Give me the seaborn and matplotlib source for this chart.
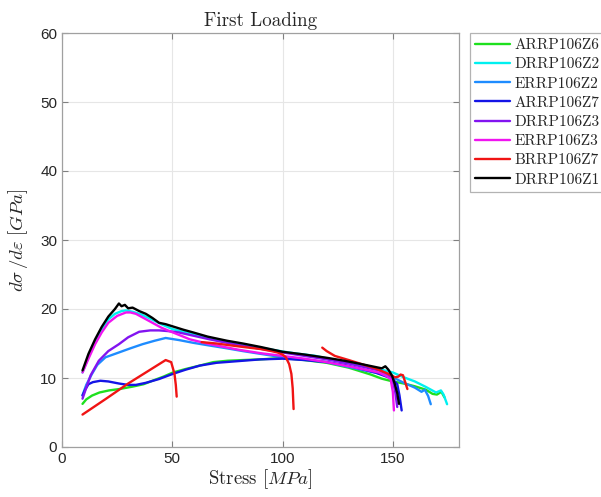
import numpy as np
import pandas as pd
import matplotlib
matplotlib.use("Agg")
import matplotlib.pyplot as plt
import seaborn as sns

# Tangent modulus vs stress during first loading, one curve per specimen
specimens = ["ARRP106Z6", "DRRP106Z2", "ERRP106Z2", "ARRP106Z7",
             "DRRP106Z3", "ERRP106Z3", "BRRP106Z7", "DRRP106Z1"]

green_x = [9.3, 11, 13.6, 17, 21.3, 26, 32, 37, 41, 46, 50.3, 56, 62.5, 68.6, 75, 82, 90, 100,
           110, 120, 130, 140, 145, 150, 155, 160, 165, 168, 170, 172, 173.4]
green_y = [6.25, 6.9, 7.45, 7.9, 8.2, 8.4, 8.75, 9.1, 9.6, 10.2, 10.8, 11.3, 11.8, 12.3, 12.5, 12.6,
           12.7, 12.9, 12.6, 12.2, 11.5, 10.5, 9.9, 9.5, 9.2, 8.8, 8.3, 7.7, 7.6, 8.0, 7.2]

cyan_x = [9.3, 12, 15, 18, 21, 24, 27, 29, 32, 36, 40, 45, 50, 60, 70, 80, 90, 97, 105, 115, 125,
          135, 145, 150, 155, 160, 165, 169.6, 171.8, 173, 174.6]
cyan_y = [10.8, 13, 15.2, 17, 18.5, 19.3, 19.7, 19.8, 19.6, 19.2, 18.6, 17.8, 17.1, 16.3, 15.5, 15,
          14.4, 14, 13.6, 13.2, 12.5, 12, 11.2, 10.8, 10.1, 9.5, 8.7, 7.9, 8.2, 7.6, 6.2]

dodger_x = [9.3, 11, 13.6, 16, 19.7, 25.8, 31, 36.5, 42, 47, 53, 59.5, 67, 74.8, 82, 90, 100, 110,
            120, 130, 140, 145, 150, 155, 160, 163, 164.5, 166, 167.2]
dodger_y = [7.5, 9.0, 10.6, 11.9, 13, 13.7, 14.3, 14.9, 15.4, 15.8, 15.5, 15.1, 14.7, 14.3, 13.9,
            13.5, 13, 12.7, 12.3, 11.6, 10.9, 10.6, 10.1, 9.3, 8.6, 8.0, 8.3, 7.4, 6.2]

blue_x = [9.3, 10.5, 12, 14, 17.4, 21, 25.8, 30, 33.5, 38, 44, 50.3, 56, 62.5, 70, 82, 90, 100,
          110, 120, 128, 136, 142, 148, 150, 152, 153, 154]
blue_y = [7.45, 8.3, 9.1, 9.4, 9.6, 9.5, 9.2, 9.0, 9.0, 9.3, 9.85, 10.6, 11.2, 11.8, 12.2, 12.5,
          12.7, 12.8, 12.6, 12.3, 11.9, 11.3, 10.8, 10.1, 9.8, 9.1, 7.5, 5.3]

purple_x = [9.3, 11, 13, 16.7, 21, 25.8, 30, 35, 40, 44, 48, 53, 60, 67, 74.8, 85, 100, 110, 120,
            130, 143.6, 147, 149, 150, 151, 152]
purple_y = [7.0, 8.6, 10.4, 12.5, 13.9, 14.9, 15.9, 16.7, 16.9, 16.9, 16.8, 16.6, 16.1, 15.6, 15.1,
            14.5, 13.7, 13.2, 12.7, 12.1, 11.1, 10.7, 10.3, 9.5, 8.2, 5.8]

magenta_x = [9.3, 12, 15, 18, 21, 25, 29, 31, 33.5, 37, 41, 45, 50.3, 58, 67, 80, 90, 100, 110,
             120, 130, 143.6, 147, 149, 150, 150.5]
magenta_y = [10.8, 12.8, 14.9, 16.6, 18, 19, 19.5, 19.5, 19.3, 18.7, 18, 17.3, 16.6, 15.6, 14.9,
             14.1, 13.6, 13.2, 12.8, 12.3, 11.7, 10.8, 10.3, 9.85, 8.0, 5.3]

# BRRP106Z7 was recorded in three separate stress windows
red_x1 = [9.3, 20, 30, 40, 44, 47, 49.5, 51, 51.6, 52]
red_y1 = [4.7, 7.0, 9.2, 11.2, 12.0, 12.6, 12.3, 10.6, 9.0, 7.3]
red_x2 = [63.3, 70, 74.8, 82, 90, 95, 97.7, 100, 101.5, 103, 104, 104.6, 105]
red_y2 = [15.2, 15.0, 14.8, 14.5, 14.2, 13.9, 13.7, 13.4, 13.0, 12.0, 10.6, 8.5, 5.5]
red_x3 = [118, 120, 123.7, 130, 136, 142, 148, 151, 152.5, 153.5, 154.6, 155.5, 156.6]
red_y3 = [14.4, 13.9, 13.2, 12.6, 12.0, 11.4, 10.6, 10.1, 10.2, 10.5, 10.4, 9.5, 8.4]

black_x = [9.3, 12, 15, 18, 21, 24, 25.8, 27, 28.5, 30, 32, 35, 38, 41, 44, 47, 50, 55, 59.5, 66,
           74.8, 82, 90, 100, 110, 120.6, 128, 136, 142, 145, 146.6, 148, 149.7, 151, 152, 152.8]
black_y = [11.1, 13.5, 15.6, 17.4, 18.9, 20.0, 20.8, 20.4, 20.6, 20.1, 20.2, 19.7, 19.3, 18.7, 18.0,
           17.8, 17.5, 17.0, 16.6, 16.0, 15.4, 15.0, 14.5, 13.8, 13.4, 12.9, 12.5, 12.0, 11.6, 11.4,
           11.7, 11.2, 10.3, 9.0, 7.8, 6.25]

colors = ["#1ee01e", "#00f0f0", "#1e8cff", "#1414e6", "#8214f0", "#f014f0", "#f01414", "#000000"]

curves = [
    ("ARRP106Z6", 0, green_x, green_y),
    ("DRRP106Z2", 0, cyan_x, cyan_y),
    ("ERRP106Z2", 0, dodger_x, dodger_y),
    ("ARRP106Z7", 0, blue_x, blue_y),
    ("DRRP106Z3", 0, purple_x, purple_y),
    ("ERRP106Z3", 0, magenta_x, magenta_y),
    ("BRRP106Z7", 1, red_x1, red_y1),
    ("BRRP106Z7", 2, red_x2, red_y2),
    ("BRRP106Z7", 3, red_x3, red_y3),
    ("DRRP106Z1", 0, black_x, black_y),
]

frames = []
for name, seg, xs, ys in curves:
    frames.append(pd.DataFrame({"specimen": name, "segment": f"{name}-{seg}",
                                "stress": xs, "modulus": ys}))
df = pd.concat(frames, ignore_index=True)

sns.set_style("white")
plt.rcParams["mathtext.fontset"] = "cm"
plt.rcParams["font.family"] = ["Liberation Sans", "DejaVu Sans"]

fig = plt.figure(figsize=(6.01, 4.97), dpi=100)
ax = fig.add_axes([62 / 601, 1 - 447 / 497, (459 - 62) / 601, (447 - 33) / 497])

sns.lineplot(data=df, x="stress", y="modulus", hue="specimen", units="segment",
             estimator=None, sort=False, hue_order=specimens,
             palette=dict(zip(specimens, colors)), linewidth=1.7, ax=ax)

ax.set_xlim(0, 180)
ax.set_ylim(0, 60)
ax.set_xticks([0, 50, 100, 150])
ax.set_yticks(range(0, 61, 10))
ax.grid(True, color="#e6e6e6", linewidth=0.8)
ax.set_axisbelow(True)
for s in ax.spines.values():
    s.set_color("#a0a0a0")
    s.set_linewidth(0.9)
ax.tick_params(direction="in", length=4, color="#808080", labelsize=11,
               labelcolor="#262626", top=True, right=True, bottom=True, left=True)

ax.set_xlabel(r"Stress $[MPa]$", fontsize=13.5, family="cmr10", color="#262626", labelpad=1)
ax.set_ylabel(r"$d\sigma\,/d\varepsilon\ [GPa]$", fontsize=13.5, color="#262626", labelpad=7)
ax.set_title("First Loading", fontsize=13.7, family="cmr10", color="#262626", pad=5)

handles, labels = ax.get_legend_handles_labels()
leg = fig.legend(handles, labels, loc="upper left", bbox_to_anchor=(470 / 601, 1 - 33 / 497),
                 frameon=True, fancybox=False, edgecolor="#a0a0a0", borderaxespad=0,
                 prop={"family": "cmr10", "size": 11}, handlelength=2.3,
                 labelspacing=0.36, handletextpad=0.25, borderpad=0.35)
leg.get_frame().set_linewidth(0.9)
ax.get_legend().remove()

fig.savefig("out.png", dpi=100)
